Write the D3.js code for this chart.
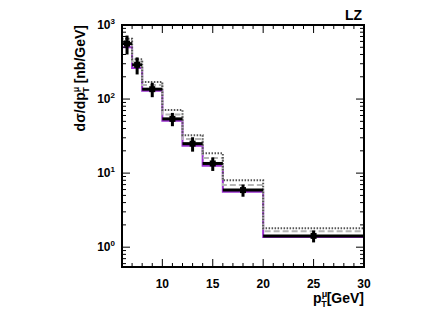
<!DOCTYPE html>
<html>
<head>
<meta charset="utf-8">
<script src="https://cdn.jsdelivr.net/npm/d3@7"></script>
<style>
  body { margin: 0; background: #fff; }
  text { font-family: 'Liberation Sans', Arial, sans-serif; font-weight: bold; fill: #000; }
</style>
</head>
<body>
<svg id="chart" width="442" height="309"></svg>
<script>
// bin edges in pT [GeV]
const binEdges = [6, 7, 8, 10, 12, 14, 16, 20, 30];

// measured cross section and its uncertainty
const dataValues = [560, 290, 136, 54, 25, 13.5, 5.9, 1.42];
const dataErrors = [160, 75, 30, 11, 5.5, 2.8, 1.1, 0.26];

// theory curves (step histograms)
const purpleValues = [500, 262, 129, 51, 23.5, 12.6, 5.6, 1.37];
const dashedValues = [610, 320, 155, 62, 29, 16, 6.9, 1.64];
const dottedValues = [650, 345, 170, 71, 32.5, 18.5, 8.0, 1.8];

const xTicks = [10, 15, 20, 25, 30];
const yTicks = [1, 10, 100, 1000];

const margin = { top: 25, right: 78, bottom: 42, left: 122 };
const width = 442 - margin.left - margin.right;
const height = 309 - margin.top - margin.bottom;

const svg = d3.select('#chart');
const g = svg.append('g').attr('transform', `translate(${margin.left},${margin.top})`);

const x = d3.scaleLinear().domain([6, 30]).range([0, width]);
const y = d3.scaleLog().domain([0.54, 1000]).range([height, 0]);

// step path for one histogram
const stepPoints = (vals) => {
  const pts = [];
  vals.forEach((v, i) => {
    pts.push([x(binEdges[i]), y(v)]);
    pts.push([x(binEdges[i + 1]), y(v)]);
  });
  return pts;
};
const line = d3.line();

g.append('path')
  .attr('d', line(stepPoints(purpleValues)))
  .attr('fill', 'none')
  .attr('stroke', '#9b30d0')
  .attr('stroke-width', 2);

g.append('path')
  .attr('d', line(stepPoints(dashedValues)))
  .attr('fill', 'none')
  .attr('stroke', '#b5b5b5')
  .attr('stroke-width', 2)
  .attr('stroke-dasharray', '6,3');

g.append('path')
  .attr('d', line(stepPoints(dottedValues)))
  .attr('fill', 'none')
  .attr('stroke', '#555')
  .attr('stroke-width', 2)
  .attr('stroke-dasharray', '1.5,1.5');

// data points: x error is the bin, y error bars
const dataG = g.append('g');
dataValues.forEach((v, i) => {
  const lo = binEdges[i], hi = binEdges[i + 1];
  const cx = x((lo + hi) / 2);
  dataG.append('line')
    .attr('x1', x(lo)).attr('x2', x(hi))
    .attr('y1', y(v)).attr('y2', y(v))
    .attr('stroke', '#000').attr('stroke-width', 3);
  dataG.append('line')
    .attr('x1', cx).attr('x2', cx)
    .attr('y1', y(v - dataErrors[i])).attr('y2', y(v + dataErrors[i]))
    .attr('stroke', '#000').attr('stroke-width', 3);
  dataG.append('rect')
    .attr('x', cx - 3).attr('y', y(v) - 3)
    .attr('width', 6).attr('height', 6)
    .attr('fill', '#000');
});

// ticks drawn inward on all four sides (ROOT style)
const ticksG = g.append('g').attr('stroke', '#000').attr('stroke-width', 1);
d3.range(6, 31, 1).forEach((t) => {
  const len = t % 5 === 0 ? 8 : 4;
  ticksG.append('line').attr('x1', x(t)).attr('x2', x(t)).attr('y1', height).attr('y2', height - len);
  ticksG.append('line').attr('x1', x(t)).attr('x2', x(t)).attr('y1', 0).attr('y2', len);
});
const logTicks = [];
[0.1, 1, 10, 100].forEach((d) => {
  for (let k = 1; k < 10; k++) logTicks.push(d * k);
});
logTicks.push(1000);
logTicks.filter((t) => t >= 0.54 && t <= 1000).forEach((t) => {
  const major = yTicks.includes(t);
  const len = major ? 8 : 4;
  ticksG.append('line').attr('x1', 0).attr('x2', len).attr('y1', y(t)).attr('y2', y(t));
  ticksG.append('line').attr('x1', width).attr('x2', width - len).attr('y1', y(t)).attr('y2', y(t));
});

// frame
g.append('rect')
  .attr('width', width).attr('height', height)
  .attr('fill', 'none').attr('stroke', '#000').attr('stroke-width', 2);

// tick labels
g.selectAll('.xlab')
  .data(xTicks)
  .enter()
  .append('text')
  .attr('x', (d) => x(d))
  .attr('y', height + 21)
  .attr('text-anchor', 'middle')
  .style('font-size', '12px')
  .text((d) => d);

const ylab = g.selectAll('.ylab').data(yTicks).enter().append('text')
  .attr('x', -7)
  .attr('y', (d) => y(d) + 4)
  .attr('text-anchor', 'end')
  .style('font-size', '12px');
ylab.append('tspan').text('10');
ylab.append('tspan').attr('dy', -5).style('font-size', '8px').text((d) => Math.round(Math.log10(d)));

// axis titles
const xt = g.append('text')
  .attr('x', width)
  .attr('y', height + 36)
  .attr('text-anchor', 'end')
  .style('font-size', '14px');
xt.append('tspan').text('p');
xt.append('tspan').attr('dy', -6).style('font-size', '9px').text('μ');
xt.append('tspan').attr('dx', -6).attr('dy', 10).style('font-size', '9px').text('T');
xt.append('tspan').attr('dy', -4).text('[GeV]');

const yt = g.append('text')
  .attr('transform', `translate(-37,0) rotate(-90)`)
  .attr('text-anchor', 'end')
  .style('font-size', '14px');
yt.append('tspan').text('dσ/dp');
yt.append('tspan').attr('dy', -6).style('font-size', '9px').text('μ');
yt.append('tspan').attr('dx', -6).attr('dy', 10).style('font-size', '9px').text('T');
yt.append('tspan').attr('dy', -4).text(' [nb/GeV]');

g.append('text')
  .attr('x', width - 2)
  .attr('y', -5)
  .attr('text-anchor', 'end')
  .style('font-size', '14px')
  .text('LZ');
</script>
</body>
</html>
